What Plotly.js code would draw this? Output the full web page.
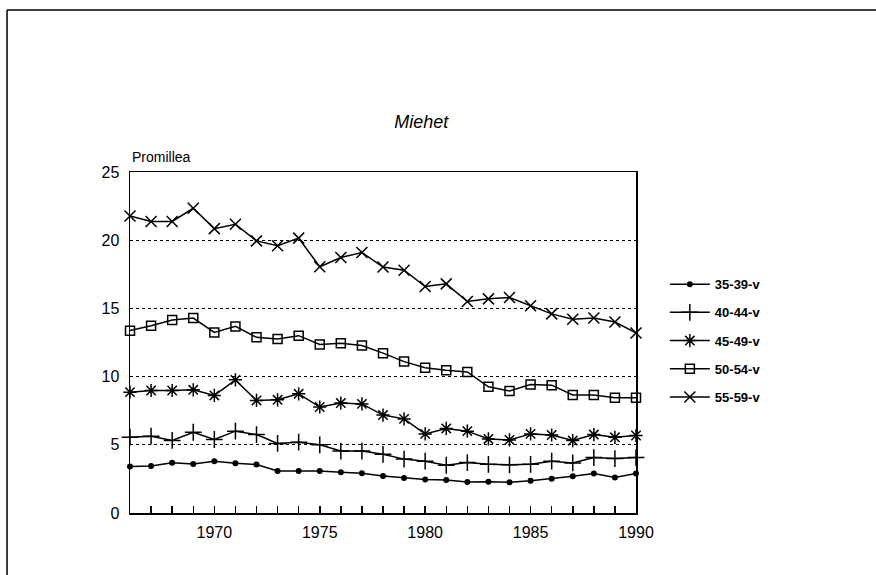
<!DOCTYPE html>
<html>
<head>
<meta charset="utf-8">
<script src="https://cdn.plot.ly/plotly-3.0.1.min.js"></script>
<style>html,body{margin:0;padding:0;background:#fff}#chart{width:876px;height:575px}</style>
</head>
<body>
<div id="chart"></div>
<script>
var years = [1966,1967,1968,1969,1970,1971,1972,1973,1974,1975,1976,1977,1978,1979,1980,1981,1982,1983,1984,1985,1986,1987,1988,1989,1990];
var tickLabels = ['','','','','1970','','','','','1975','','','','','1980','','','','','1985','','','','','1990'];
var seriesNames = ['35-39-v','40-44-v','45-49-v','50-54-v','55-59-v'];
var s35 = [3.4,3.45,3.69,3.6,3.8,3.64,3.55,3.08,3.08,3.08,2.99,2.91,2.72,2.56,2.45,2.42,2.28,2.29,2.25,2.37,2.51,2.7,2.9,2.6,2.9];
var s40 = [5.56,5.63,5.32,5.92,5.39,6.0,5.75,5.1,5.19,5.0,4.54,4.54,4.3,3.95,3.8,3.5,3.7,3.57,3.53,3.57,3.8,3.67,4.06,3.99,4.06];
var s45 = [8.86,8.98,8.98,9.03,8.62,9.76,8.25,8.3,8.74,7.77,8.06,8.0,7.18,6.9,5.8,6.2,6.0,5.43,5.36,5.8,5.72,5.31,5.75,5.55,5.68];
var s50 = [13.37,13.73,14.15,14.29,13.24,13.68,12.88,12.76,13.0,12.36,12.45,12.28,11.72,11.1,10.65,10.46,10.34,9.25,8.94,9.42,9.37,8.65,8.65,8.45,8.45];
var s55 = [21.78,21.37,21.37,22.34,20.85,21.17,19.95,19.59,20.15,18.05,18.73,19.1,18.03,17.8,16.6,16.8,15.5,15.7,15.8,15.2,14.6,14.2,14.3,14.0,13.2];

var allSeries = [s35,s40,s45,s50,s55];
var symbols = ['circle','cross-thin-open','asterisk-open','square-open','x-thin-open'];
var sizes = [4.5,12,11,9,11];

var traces = allSeries.map(function(s,i){
  return {
    x: years, y: s, name: seriesNames[i], type: 'scatter', mode: 'lines+markers',
    legendgroup: 'g'+i, cliponaxis: false,
    line: {color:'#000', width:1.5},
    marker: {symbol: symbols[i], size: sizes[i], color:'#000', line:{color:'#000', width:1.5}}
  };
});

var font = 'Liberation Sans, Arial, Helvetica, sans-serif';
var layout = {
  width: 876, height: 575,
  margin: {l:130, r:240, t:172, b:62},
  paper_bgcolor:'#fff', plot_bgcolor:'#fff',
  font: {family: font, color:'#000', size: 16},
  showlegend: true,
  title: {text:'Miehet', font:{family:font, size:18, style:'italic', color:'#000'}, x:0.481, xref:'container', xanchor:'center', y:0.788, yref:'container', yanchor:'middle'},
  xaxis: {range:[1966,1990], tickmode:'array', tickvals: years, ticktext: tickLabels,
    ticks:'inside', ticklen:7, tickwidth:1.5, tickcolor:'#000',
    showline:true, mirror:true, linecolor:'#000', linewidth:1.5,
    showgrid:false, zeroline:false, ticklabelstandoff:4,
    tickfont:{size:16, family:font, color:'#000'}},
  yaxis: {range:[0,25], dtick:5, ticks:'', showline:true, mirror:true, linecolor:'#000', linewidth:1.5,
    showgrid:true, gridcolor:'#000', gridwidth:1, griddash:'dot', zeroline:false,
    ticklabelstandoff:6, tickfont:{size:16, family:font, color:'#000'}},
  legend: {x:1.057, xanchor:'left', y:0.715, yanchor:'top', font:{size:13, family:font, weight:'bold', color:'#000'},
    tracegroupgap:8.3, itemwidth:40, bgcolor:'rgba(0,0,0,0)'},
  annotations: [{text:'Promillea', xref:'paper', yref:'paper', x:0, y:1, xanchor:'left', yanchor:'bottom', yshift:5, showarrow:false, font:{size:14, family:font, color:'#000'}}],
  shapes: [
    {type:'line', xref:'paper', yref:'paper', x0:-0.243, x1:1.48, y0:1.475, y1:1.475, line:{color:'#000', width:1.5}},
    {type:'line', xref:'paper', yref:'paper', x0:-0.243, x1:-0.243, y0:1.475, y1:-0.19, line:{color:'#000', width:1.5}}
  ]
};
Plotly.newPlot('chart', traces, layout, {displayModeBar:false, staticPlot:true});
</script>
</body>
</html>
